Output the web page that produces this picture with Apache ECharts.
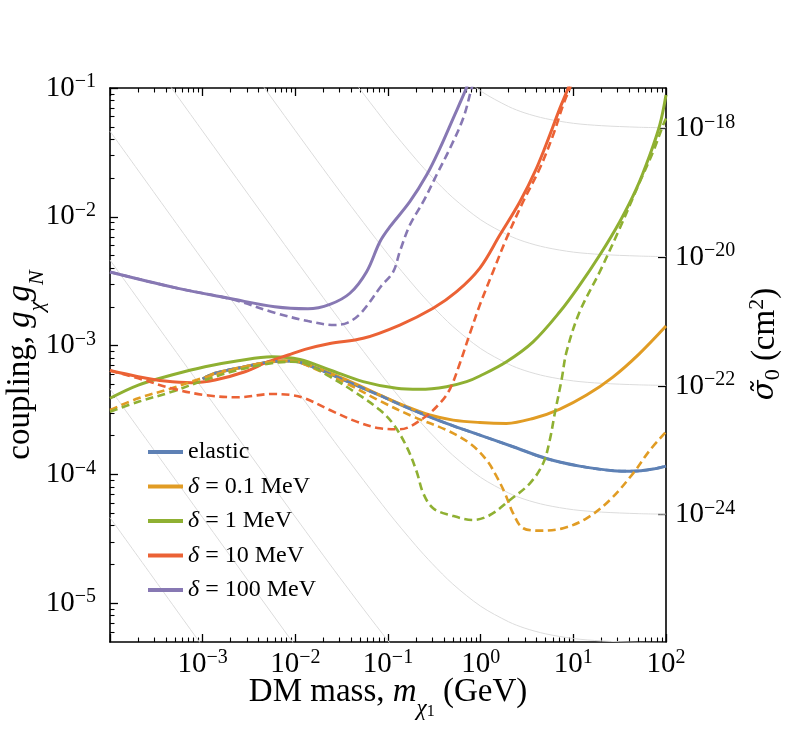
<!DOCTYPE html>
<html><head><meta charset="utf-8">
<script src="https://cdn.jsdelivr.net/npm/echarts@6/dist/echarts.min.js"></script>
<style>html,body{margin:0;padding:0;background:#fff}#c{width:789px;height:733px}</style>
</head><body><div id="c"></div>
<script>
// ---------- ticks / labels ----------
const xMajor = [1e-4, 1e-3, 1e-2, 1e-1, 1, 10, 100];
const xLabelValues = [1e-3, 1e-2, 1e-1, 1, 10, 100];
const xLabelExps = ['−3', '−2', '−1', '0', '1', '2'];
const yMajor = [1e-5, 1e-4, 1e-3, 1e-2, 1e-1];
const yLabelExps = ['−5', '−4', '−3', '−2', '−1'];
const sigmaTicks = [-24, -22, -20, -18];
const sigmaLabelExps = ['−24', '−22', '−20', '−18'];

// ---------- gray iso-cross-section curves ----------
const grayMass = [1e-4, 1e-3, 1e-2, 0.03, 0.1, 0.2, 0.3, 0.5, 1, 2, 3, 5, 10, 20, 50, 100];
const gray1 = [462, 46.2, 4.67, 1.59, 0.511, 0.280, 0.203, 0.141, 0.0948, 0.0718, 0.0640, 0.0579, 0.0532, 0.0510, 0.0496, 0.0491];
const gray2 = [46.2, 4.62, 0.467, 0.159, 0.0511, 0.0280, 0.0203, 0.0141, 0.00948, 0.00718, 0.00640, 0.00579, 0.00532, 0.00510, 0.00496, 0.00491];
const gray3 = [4.62, 0.462, 0.0467, 0.0159, 5.11e-3, 2.80e-3, 2.03e-3, 1.41e-3, 9.48e-4, 7.18e-4, 6.40e-4, 5.79e-4, 5.32e-4, 5.10e-4, 4.96e-4, 4.91e-4];
const gray4 = [0.462, 0.0462, 4.67e-3, 1.59e-3, 5.11e-4, 2.80e-4, 2.03e-4, 1.41e-4, 9.48e-5, 7.18e-5, 6.40e-5, 5.79e-5, 5.32e-5, 5.10e-5, 4.96e-5, 4.91e-5];
const gray5 = [0.0462, 4.62e-3, 4.67e-4, 1.59e-4, 5.11e-5, 2.80e-5, 2.03e-5, 1.41e-5, 9.48e-6, 7.18e-6, 6.40e-6, 5.79e-6, 5.32e-6, 5.10e-6, 4.96e-6, 4.91e-6];
const gray6 = [4.62e-3, 4.62e-4, 4.67e-5, 1.59e-5, 5.11e-6, 2.80e-6, 2.03e-6, 1.41e-6, 9.48e-7, 7.18e-7, 6.40e-7, 5.79e-7, 5.32e-7, 5.10e-7, 4.96e-7, 4.91e-7];
const gray7 = [4.62e-4, 4.62e-5, 4.67e-6, 1.59e-6, 5.11e-7, 2.80e-7, 2.03e-7, 1.41e-7, 9.48e-8, 7.18e-8, 6.40e-8, 5.79e-8, 5.32e-8, 5.10e-8, 4.96e-8, 4.91e-8];
const gray8 = [4.62e-5, 4.62e-6, 4.67e-7, 1.59e-7, 5.11e-8, 2.80e-8, 2.03e-8, 1.41e-8, 9.48e-9, 7.18e-9, 6.40e-9, 5.79e-9, 5.32e-9, 5.10e-9, 4.96e-9, 4.91e-9];

// ---------- main curves: [mass (GeV), coupling] ----------
const elastic = [[1e-3,5.51e-4],[1.36e-3,6.1e-4],[2.86e-3,6.86e-4],[5.55e-3,7.5e-4],[9.1e-3,7.6e-4],[0.0156,6.8e-4],[0.0357,5.3e-4],[0.0818,4.1e-4],[0.187,3.16e-4],[0.428,2.49e-4],[0.98,2.02e-4],[2.24,1.64e-4],[5.1,1.33e-4],[11.7,1.16e-4],[26.9,1.07e-4],[44.2,1.06e-4],[72.6,1.1e-4],[100,1.16e-4]];
const delta01 = [[1e-3,5.51e-4],[1.36e-3,6.1e-4],[2.86e-3,6.86e-4],[5.55e-3,7.5e-4],[9.1e-3,7.63e-4],[0.0156,6.86e-4],[0.0357,5.41e-4],[0.0818,4.13e-4],[0.159,3.36e-4],[0.283,2.89e-4],[0.505,2.64e-4],[0.98,2.53e-4],[1.9,2.49e-4],[3.68,2.72e-4],[7.17,3.22e-4],[13.9,4.13e-4],[26.7,5.70e-4],[51.1,8.60e-4],[100,1.42e-3]];
const delta01Dashed = [[1e-4,3.16e-4],[2.02e-4,3.9e-4],[4.63e-4,4.66e-4],[9.74e-4,5.57e-4],[2.86e-3,6.86e-4],[5.55e-3,7.5e-4],[9.1e-3,7.63e-4],[0.0156,6.67e-4],[0.0357,5.09e-4],[0.0818,3.72e-4],[0.187,2.81e-4],[0.428,2.21e-4],[0.766,1.74e-4],[1.16,1.29e-4],[1.49,9.6e-5],[1.83,7.13e-5],[2.24,4.99e-5],[2.88,3.82e-5],[4.35,3.66e-5],[7.76,3.82e-5],[13.9,4.56e-5],[24.8,6.33e-5],[44.2,1.02e-4],[66.9,1.54e-4],[100,2.14e-4]];
const delta1 = [[1e-4,3.9e-4],[2.02e-4,4.94e-4],[4.63e-4,5.91e-4],[1.06e-3,6.86e-4],[2.42e-3,7.63e-4],[5.55e-3,8.2e-4],[0.0112,7.8e-4],[0.0236,6.47e-4],[0.054,5.25e-4],[0.124,4.66e-4],[0.221,4.58e-4],[0.428,4.8e-4],[0.705,5.25e-4],[0.98,5.81e-4],[1.9,7.5e-4],[3.68,1.07e-3],[7.15,1.83e-3],[11.7,2.95e-3],[19.3,5.05e-3],[31.7,9.16e-3],[48.1,0.0166],[66.9,0.0302],[85.7,0.0516],[100,0.0883]];
const delta1Dashed = [[1e-4,3.07e-4],[2.02e-4,3.66e-4],[4.63e-4,4.38e-4],[1.06e-3,5.41e-4],[2.42e-3,6.47e-4],[5.55e-3,7.3e-4],[9.1e-3,7.5e-4],[0.0127,7.3e-4],[0.0236,5.74e-4],[0.0458,4.27e-4],[0.0818,3.16e-4],[0.114,2.46e-4],[0.159,1.64e-4],[0.204,1.05e-4],[0.24,7.13e-5],[0.307,5.46e-5],[0.466,4.84e-5],[0.832,4.43e-5],[1.26,4.84e-5],[2.07,6.33e-5],[3.4,8.53e-5],[4.73,1.22e-4],[5.57,1.85e-4],[6.31,2.98e-4],[7.46,5.41e-4],[8.45,8.97e-4],[11.7,1.83e-3],[19.3,3.75e-3],[31.7,8.15e-3],[52.2,0.0187],[72.6,0.032],[93.1,0.0516],[100,0.058]];
const delta10 = [[1e-4,6.4e-4],[2.02e-4,5.74e-4],[3.92e-4,5.31e-4],[7.6e-4,5.15e-4],[1.36e-3,5.41e-4],[2.86e-3,6.27e-4],[5.1e-3,7.5e-4],[8.4e-3,8.45e-4],[0.0127,9.35e-4],[0.0236,1.04e-3],[0.054,1.14e-3],[0.134,1.445e-3],[0.307,1.95e-3],[0.55,2.62e-3],[0.98,4.0e-3],[1.61,7.22e-3],[2.65,0.0131],[4.0,0.0238],[5.57,0.0431],[7.15,0.0695],[8.79,0.0995],[9.2,0.11]];
const delta10Dashed = [[1e-4,6.4e-4],[2.02e-4,5.57e-4],[4.63e-4,4.66e-4],[1.06e-3,4.13e-4],[2.42e-3,3.97e-4],[5.55e-3,4.21e-4],[9.1e-3,4.13e-4],[0.0127,3.9e-4],[0.0236,3.16e-4],[0.0458,2.57e-4],[0.0818,2.28e-4],[0.134,2.24e-4],[0.24,2.73e-4],[0.363,3.57e-4],[0.466,4.6e-4],[0.597,7.3e-4],[0.766,1.245e-3],[0.98,2.07e-3],[1.36,3.75e-3],[1.9,6.8e-3],[2.87,0.0131],[4.35,0.0238],[6.05,0.0431],[7.76,0.0738],[9.17,0.0995],[9.5,0.106]];
const delta100 = [[1e-4,3.73e-3],[5e-4,2.82e-3],[2.04e-3,2.31e-3],[6e-3,2.0e-3],[0.0137,1.93e-3],[0.0236,2.09e-3],[0.0388,2.55e-3],[0.0588,3.75e-3],[0.0818,6.41e-3],[0.105,8.38e-3],[0.172,0.0131],[0.261,0.0211],[0.363,0.034],[0.505,0.0582],[0.676,0.0936],[0.72,0.106]];
const delta100Dashed = [[1e-4,3.73e-3],[5e-4,2.82e-3],[2.02e-3,2.3e-3],[5.98e-3,1.8e-3],[0.0137,1.55e-3],[0.0265,1.445e-3],[0.0369,1.51e-3],[0.0514,1.8e-3],[0.0846,2.9e-3],[0.114,3.75e-3],[0.134,5.36e-3],[0.172,8.63e-3],[0.24,0.0131],[0.334,0.0211],[0.466,0.034],[0.648,0.0582],[0.798,0.0995],[0.82,0.106]];

const seriesNames = ['elastic', 'δ = 0.1 MeV', 'δ = 1 MeV', 'δ = 10 MeV', 'δ = 100 MeV'];
const colors = ['#5E81B5', '#E19C24', '#8FB032', '#EB6235', '#8778B3'];

// ---------- build ----------
const F = 'Liberation Serif';
const xMinor = [];
for (let d = -4; d <= 1; d++) for (let k = 2; k <= 9; k++) xMinor.push(k * Math.pow(10, d));
const yMinor = [6e-6, 7e-6, 8e-6, 9e-6];
for (let d = -5; d <= -2; d++) for (let k = 2; k <= 9; k++) yMinor.push(k * Math.pow(10, d));

const tickRich = {
  b: { fontFamily: F, fontSize: 29, lineHeight: 32, color: '#000' },
  s: { fontFamily: F, fontSize: 20, lineHeight: 19, verticalAlign: 'top', color: '#000' }
};
function idxOf(arr, v) {
  let best = 0, bd = Infinity;
  arr.forEach((t, i) => { const d = Math.abs(Math.log10(t) - Math.log10(v)); if (d < bd) { bd = d; best = i; } });
  return best;
}
const blackLine = { lineStyle: { color: '#000', width: 1.6 } };
const majTick = (vals) => ({ show: true, inside: true, length: 8, customValues: vals, lineStyle: { color: '#000', width: 1.3 } });
const minTick = (vals) => ({ show: true, inside: true, length: 4.5, customValues: vals, lineStyle: { color: '#000', width: 1.1 } });

const xBase = { type: 'log', min: 1e-4, max: 100, gridIndex: 0, splitLine: { show: false }, minorTick: { show: false }, minorSplitLine: { show: false } };
const yBase = { type: 'log', min: 5e-6, max: 0.1, gridIndex: 0, splitLine: { show: false }, minorTick: { show: false }, minorSplitLine: { show: false } };
const TS = 33;

const xAxis = [
  Object.assign({}, xBase, {
    position: 'bottom', axisLine: blackLine, axisTick: majTick(xMajor),
    axisLabel: { customValues: xLabelValues, margin: 6, formatter: v => `{b|10}{s|${xLabelExps[idxOf(xLabelValues, v)]}}`, rich: tickRich },
    name: '{n|DM mass, }{i|m}{sub|χ}{sub2|1}{n| (GeV)}', nameLocation: 'middle', nameGap: 34, nameMoveOverlap: false,
    nameTextStyle: { rich: {
      n: { fontFamily: F, fontSize: TS, lineHeight: 44, verticalAlign: 'top', color: '#000' },
      i: { fontFamily: F, fontSize: TS, fontStyle: 'italic', lineHeight: 44, verticalAlign: 'top', color: '#000' },
      sub: { fontFamily: F, fontSize: 23, fontStyle: 'italic', lineHeight: 26, verticalAlign: 'bottom', color: '#000' },
      sub2: { fontFamily: F, fontSize: 16, lineHeight: 16, verticalAlign: 'bottom', color: '#000' }
    } }
  }),
  Object.assign({}, xBase, { position: 'bottom', axisLine: { show: false }, axisTick: minTick(xMinor), axisLabel: { show: false } }),
  Object.assign({}, xBase, { position: 'top', axisLine: blackLine, axisTick: majTick(xMajor), axisLabel: { show: false } }),
  Object.assign({}, xBase, { position: 'top', axisLine: { show: false }, axisTick: minTick(xMinor), axisLabel: { show: false } })
];

const yAxis = [
  Object.assign({}, yBase, {
    position: 'left', axisLine: blackLine, axisTick: majTick(yMajor),
    axisLabel: { customValues: yMajor, margin: 14, formatter: v => `{b|10}{s|${yLabelExps[idxOf(yMajor, v)]}}`, rich: tickRich },
    name: '{n|coupling, }{i|g}{sub|χ}{i|g}{sub|N}', nameLocation: 'middle', nameRotate: 90, nameGap: 62, nameMoveOverlap: false,
    nameTextStyle: { rich: {
      n: { fontFamily: F, fontSize: TS, lineHeight: 44, verticalAlign: 'top', color: '#000' },
      i: { fontFamily: F, fontSize: TS, fontStyle: 'italic', lineHeight: 44, verticalAlign: 'top', color: '#000' },
      sub: { fontFamily: F, fontSize: 22, fontStyle: 'italic', lineHeight: 24, verticalAlign: 'bottom', color: '#000' }
    } }
  }),
  Object.assign({}, yBase, { position: 'left', axisLine: { show: false }, axisTick: minTick(yMinor), axisLabel: { show: false } }),
  {
    type: 'value', gridIndex: 0, position: 'right', min: -25.976, max: -17.374,
    splitLine: { show: false }, axisLine: blackLine, axisTick: majTick(sigmaTicks),
    axisLabel: { customValues: sigmaTicks, margin: 9, formatter: v => `{b|10}{s|${sigmaLabelExps[sigmaTicks.indexOf(Math.round(v))]}}`, rich: tickRich },
    name: '{i|σ̃}{sub|0}{n| (cm}{sup|2}{n|)}', nameLocation: 'middle', nameRotate: 90, nameGap: 80, nameMoveOverlap: false,
    nameTextStyle: { padding: [0, 0, 0, 42], rich: {
      n: { fontFamily: F, fontSize: TS, lineHeight: 38, color: '#000' },
      i: { fontFamily: 'DejaVu Serif', fontSize: 29, fontStyle: 'italic', lineHeight: 38, color: '#000' },
      sub: { fontFamily: F, fontSize: 22, lineHeight: 20, verticalAlign: 'bottom', color: '#000' },
      sup: { fontFamily: F, fontSize: 22, lineHeight: 20, verticalAlign: 'top', color: '#000' }
    } }
  }
];

const series = [];
[gray1, gray2, gray3, gray4, gray5, gray6, gray7, gray8].forEach((g, k) => {
  series.push({
    name: 'gray' + k, type: 'line', xAxisIndex: 0, yAxisIndex: 0, silent: true, z: 1,
    symbol: 'none', smooth: 0.3, clip: true,
    lineStyle: { color: '#dcdcdc', width: 1 },
    data: grayMass.map((m, i) => [m, g[i]])
  });
});
const solids = [elastic, delta01, delta1, delta10, delta100];
const dashes = [elastic, delta01Dashed, delta1Dashed, delta10Dashed, delta100Dashed];
solids.forEach((d, i) => {
  series.push({
    name: seriesNames[i], type: 'line', xAxisIndex: 0, yAxisIndex: 0, z: 3,
    symbol: 'none', smooth: 0.35, clip: true, color: colors[i],
    lineStyle: { color: colors[i], width: 3 }, data: d
  });
});
dashes.forEach((d, i) => {
  series.push({
    name: seriesNames[i] + ' (dashed)', type: 'line', xAxisIndex: 0, yAxisIndex: 0, z: 4,
    symbol: 'none', smooth: 0.35, clip: true, color: colors[i],
    lineStyle: { color: colors[i], width: 2.6, type: [8, 4.5] }, data: d
  });
});

const chart = echarts.init(document.getElementById('c'), null, { renderer: 'canvas' });
chart.setOption({
  animation: false,
  backgroundColor: '#fff',
  grid: { left: 110, top: 88, width: 556, height: 554, containLabel: false, outerBoundsMode: 'none' },
  legend: {
    data: seriesNames, orient: 'vertical', left: 143, top: 435, itemWidth: 35, itemHeight: 14, itemGap: 10.5,
    selectedMode: false, icon: 'path://M0,0 L35,0 L35,4 L0,4 Z',
    formatter: n => n === 'elastic' ? '{n|elastic}' : '{i|δ}{n|' + n.slice(1) + '}',
    textStyle: { rich: {
      n: { fontFamily: F, fontSize: 24, lineHeight: 24, color: '#000' },
      i: { fontFamily: F, fontSize: 24, fontStyle: 'italic', lineHeight: 24, color: '#000' }
    } }
  },
  xAxis, yAxis, series
});
</script></body></html>
